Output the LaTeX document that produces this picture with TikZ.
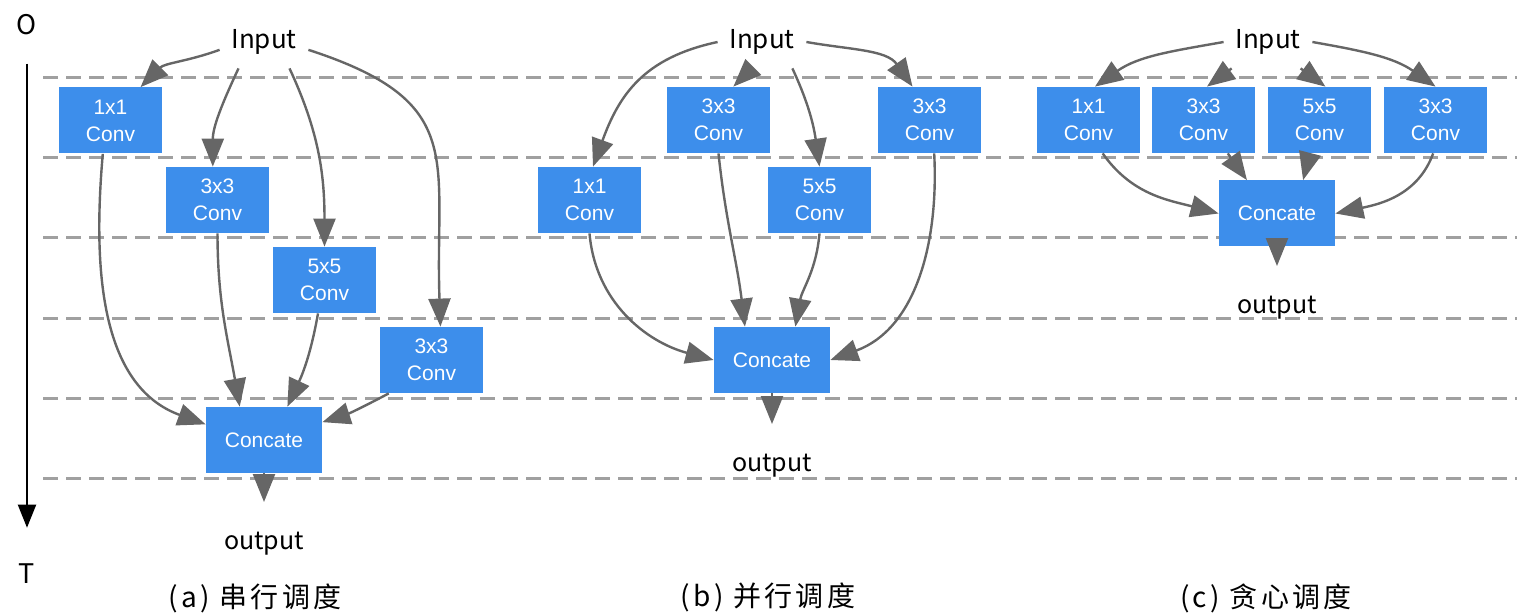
\documentclass[tikz,border=0pt]{standalone}
\usepackage{fontspec}
\setsansfont{Liberation Sans}
\newfontfamily\hand{Noto Sans CJK SC}
\newfontfamily\handwide[LetterSpace=12]{Noto Sans CJK SC}
\usetikzlibrary{arrows.meta}
\definecolor{convblue}{RGB}{61,142,235}
\definecolor{linkgray}{RGB}{102,102,102}
\definecolor{lvlgray}{RGB}{160,160,160}
\tikzset{
  conv/.style={fill=convblue,text=white,minimum width=51.5pt,minimum height=33pt,inner sep=0pt,align=center,font=\sffamily\fontsize{10.5}{13.5}\selectfont},
  cat/.style={conv,minimum width=58pt},
  inp/.style={font=\hand\fontsize{13}{15}\selectfont,minimum width=44pt,minimum height=26pt,inner sep=0pt},
  outp/.style={font=\hand\fontsize{12.5}{14}\selectfont,inner sep=0pt},
  capt/.style={font=\handwide\fontsize{14}{16}\selectfont,inner sep=0pt},
  link/.style={draw=linkgray,line width=1.2pt,-{Triangle[length=14pt,width=11pt]}},
  lvl/.style={draw=lvlgray,line width=1.5pt,dash pattern=on 7.5pt off 4pt},
}
\begin{document}
\begin{tikzpicture}[x=0.5pt,y=0.5pt]
\useasboundingbox (0,0) rectangle (1517,-615);
\foreach \y in {78,158,238,318,398,478} \draw[lvl] (43,-\y) -- (1517,-\y);
\node[font=\hand\fontsize{13.5}{15}\selectfont,inner sep=0pt] (tO) at (27,-25) {O};
\node[font=\hand\fontsize{13.5}{15}\selectfont,inner sep=0pt] (tT) at (27,-574) {T};
\draw[line width=1pt,-{Triangle[length=11.5pt,width=9pt]},shorten <=14pt,shorten >=18pt] (tO) -- (tT);

\node[inp] (ina) at (264,-42) {Input};
\node[conv] (a1) at (110.5,-120.5) {1x1\\Conv};
\node[conv] (a3) at (217.5,-200) {3x3\\Conv};
\node[conv] (a5) at (324.5,-280) {5x5\\Conv};
\node[conv] (a3b) at (431.5,-360) {3x3\\Conv};
\node[cat] (acat) at (264,-440) {Concate};
\node[outp] (outa) at (264,-544) {output};
\node[capt] (capa) at (255,-598) {(a) 串行调度};
\draw[link] (ina.190) to[out=200,in=45] (a1.48);
\draw[link] (ina.-134) to[out=-115,in=90] (a3.98);
\draw[link] (ina.-46) to[out=-65,in=90] (a5.north);
\draw[link] (ina.-10) to[out=-18,in=92,looseness=1.4] (a3b.75);
\draw[link] (a1.-103) to[out=-95,in=160] (acat.165);
\draw[link] (a3.south) to[out=-90,in=100] (acat.126);
\draw[link] (a5.-101) to[out=-100,in=65] (acat.55);
\draw[link] (a3b.-142) to[out=-152,in=18] (acat.17);
\draw[link,shorten >=15pt] (acat) -- (outa);

\node[inp] (inb) at (762,-42) {Input};
\node[conv] (b3) at (718.5,-120) {3x3\\Conv};
\node[conv] (b3b) at (929.5,-120) {3x3\\Conv};
\node[conv] (b1) at (589.5,-200) {1x1\\Conv};
\node[conv] (b5) at (819.5,-200) {5x5\\Conv};
\node[cat] (bcat) at (772,-360) {Concate};
\node[outp] (outb) at (772,-466) {output};
\node[capt] (capb) at (768,-597) {(b) 并行调度};
\draw[link] (inb.west) to[out=192,in=70,looseness=1.1] (b1.84);
\draw[link] (inb.-111) -- (b3.66);
\draw[link] (inb.-41) to[out=-65,in=98] (b5.north);
\draw[link] (inb.east) to[out=-10,in=125] (b3b.117);
\draw[link] (b1.south) to[out=-85,in=165] (bcat.west);
\draw[link] (b3.south) to[out=-84,in=97] (bcat.129);
\draw[link] (b5.south) to[out=-95,in=80] (bcat.55);
\draw[link] (b3b.-82) to[out=-87,in=20] (bcat.east);
\draw[link,shorten >=15pt] (bcat) -- (outb);

\node[inp] (inc) at (1268,-42) {Input};
\node[conv] (c1) at (1088.5,-120) {1x1\\Conv};
\node[conv] (c3) at (1203.5,-120) {3x3\\Conv};
\node[conv] (c5) at (1319.5,-120) {5x5\\Conv};
\node[conv] (c3b) at (1435.5,-120) {3x3\\Conv};
\node[cat] (ccat) at (1277,-213.5) {Concate};
\node[outp] (outc) at (1277,-308) {output};
\node[capt] (capc) at (1266,-598) {(c) 贪心调度};
\draw[link] (inc.west) to[out=190,in=35] (c1.79);
\draw[link] (inc.-144) -- (c3.84);
\draw[link] (inc.-39) -- (c5.80);
\draw[link] (inc.east) to[out=-10,in=145] (c3b.north);
\draw[link] (c1.-67) to[out=-55,in=165] (ccat.west);
\draw[link] (c3.-54) -- (ccat.132);
\draw[link] (c5.-106) -- (ccat.52);
\draw[link] (c3b.-94) to[out=-110,in=12] (ccat.east);
\draw[link,shorten >=15pt] (ccat) -- (outc);
\end{tikzpicture}
\end{document}
